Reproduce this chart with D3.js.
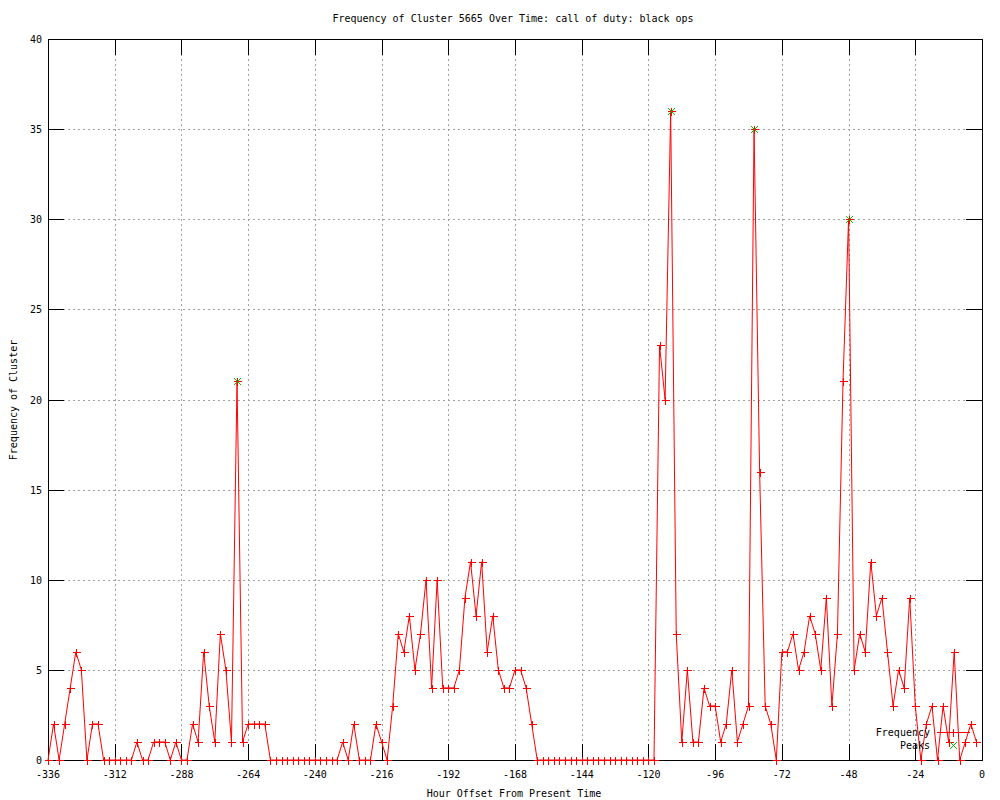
<!DOCTYPE html>
<html>
<head>
<meta charset="utf-8">
<script src="https://cdn.jsdelivr.net/npm/d3@7"></script>
<style>
  body { margin: 0; background: #fff; }
  text { font-family: "DejaVu Sans Mono", monospace; font-size: 10px; fill: #000; }
</style>
</head>
<body>
<div id="chart"></div>
<script>
// hour offsets (x) and cluster frequency (y)
var hours = [
  -336,-334,-332,-330,-328,-326,-324,-322,-320,-318,-316,-314,
  -312,-310,-308,-306,-304,-302,-300,-298,-296,-294,-292,-290,
  -288,-286,-284,-282,-280,-278,-276,-274,-272,-270,-268,-266,
  -264,-262,-260,-258,-256,-254,-252,-250,-248,-246,-244,-242,
  -240,-238,-236,-234,-232,-230,-228,-226,-224,-222,-220,-218,
  -216,-214,-212,-210,-208,-206,-204,-202,-200,-198,-196,-194,
  -192,-190,-188,-186,-184,-182,-180,-178,-176,-174,-172,-170,
  -168,-166,-164,-162,-160,-158,-156,-154,-152,-150,-148,-146,
  -144,-142,-140,-138,-136,-134,-132,-130,-128,-126,-124,-122,
  -120,-118,-116,-114,-112,-110,-108,-106,-104,-102,-100,-98,
  -96,-94,-92,-90,-88,-86,-84,-82,-80,-78,-76,-74,
  -72,-70,-68,-66,-64,-62,-60,-58,-56,-54,-52,-50,
  -48,-46,-44,-42,-40,-38,-36,-34,-32,-30,-28,-26,
  -24,-22,-20,-18,-16,-14,-12,-10,-8,-6,-4,-2
];

var frequency = [
  0,2,0,2,4,6,5,0,2,2,0,0,
  0,0,0,0,1,0,0,1,1,1,0,1,
  0,0,2,1,6,3,1,7,5,1,21,1,
  2,2,2,2,0,0,0,0,0,0,0,0,
  0,0,0,0,0,1,0,2,0,0,0,2,
  1,0,3,7,6,8,5,7,10,4,10,4,
  4,4,5,9,11,8,11,6,8,5,4,4,
  5,5,4,2,0,0,0,0,0,0,0,0,
  0,0,0,0,0,0,0,0,0,0,0,0,
  0,0,23,20,36,7,1,5,1,1,4,3,
  3,1,2,5,1,2,3,35,16,3,2,0,
  6,6,7,5,6,8,7,5,9,3,7,21,
  30,5,7,6,11,8,9,6,3,5,4,9,
  3,0,2,3,0,3,1,6,0,1,2,1
];

var peakHours = [-268, -112, -82, -48];
var peakValues = [21, 36, 35, 30];

var xTicks = [-336,-312,-288,-264,-240,-216,-192,-168,-144,-120,-96,-72,-48,-24,0];
var yTicks = [0,5,10,15,20,25,30,35,40];

var title = "Frequency of Cluster 5665 Over Time: call of duty: black ops";

(function() {
  var width = 1000,
    height = 800;

  var left = 48, right = 982, top = 39, bottom = 760,
    ticLen = 16;

  var svg = d3.select("#chart")
    .append("svg")
    .attr("width", width)
    .attr("height", height);

  var x = d3.scaleLinear().domain([-336, 0]).range([left, right]);
  var y = d3.scaleLinear().domain([0, 40]).range([bottom, top]);

  var data = hours.map(function(h, i) { return { h: h, v: frequency[i] }; });
  var peaks = peakHours.map(function(h, i) { return { h: h, v: peakValues[i] }; });

  var red = "#ff0000", green = "#00c000";

  // grid
  var grid = svg.append("g")
    .attr("stroke", "#a0a0a0")
    .attr("stroke-dasharray", "2,3")
    .attr("shape-rendering", "crispEdges");

  grid.selectAll(".gx")
    .data(xTicks.slice(1, -1))
    .enter().append("line")
    .attr("x1", function(d) { return Math.round(x(d)) + 0.5; })
    .attr("x2", function(d) { return Math.round(x(d)) + 0.5; })
    .attr("y1", top)
    .attr("y2", bottom);

  grid.selectAll(".gy")
    .data(yTicks.slice(1, -1))
    .enter().append("line")
    .attr("y1", function(d) { return Math.round(y(d)) + 0.5; })
    .attr("y2", function(d) { return Math.round(y(d)) + 0.5; })
    .attr("x1", left)
    .attr("x2", right);

  // ticks on all four sides
  var tics = svg.append("g")
    .attr("stroke", "#000")
    .attr("shape-rendering", "crispEdges");

  xTicks.forEach(function(t) {
    var px = Math.round(x(t)) + 0.5;
    tics.append("line").attr("x1", px).attr("x2", px).attr("y1", bottom).attr("y2", bottom - ticLen);
    tics.append("line").attr("x1", px).attr("x2", px).attr("y1", top).attr("y2", top + ticLen);
  });

  yTicks.forEach(function(t) {
    var py = Math.round(y(t)) + 0.5;
    tics.append("line").attr("y1", py).attr("y2", py).attr("x1", left).attr("x2", left + ticLen);
    tics.append("line").attr("y1", py).attr("y2", py).attr("x1", right).attr("x2", right - ticLen);
  });

  svg.append("rect")
    .attr("x", left + 0.5)
    .attr("y", top + 0.5)
    .attr("width", right - left)
    .attr("height", bottom - top)
    .attr("fill", "none")
    .attr("stroke", "#000")
    .attr("shape-rendering", "crispEdges");

  // tick labels
  svg.selectAll(".xlab")
    .data(xTicks)
    .enter().append("text")
    .attr("x", function(d) { return x(d); })
    .attr("y", 778)
    .attr("text-anchor", "middle")
    .text(function(d) { return d; });

  svg.selectAll(".ylab")
    .data(yTicks)
    .enter().append("text")
    .attr("x", 42)
    .attr("y", function(d) { return y(d) + 4; })
    .attr("text-anchor", "end")
    .text(function(d) { return d; });

  svg.append("text")
    .attr("x", 513)
    .attr("y", 22)
    .attr("text-anchor", "middle")
    .text(title);

  svg.append("text")
    .attr("x", 514)
    .attr("y", 797)
    .attr("text-anchor", "middle")
    .text("Hour Offset From Present Time");

  svg.append("text")
    .attr("transform", "translate(17,400) rotate(-90)")
    .attr("text-anchor", "middle")
    .text("Frequency of Cluster");

  // frequency line + markers
  var line = d3.line()
    .x(function(d) { return x(d.h); })
    .y(function(d) { return y(d.v); });

  svg.append("path")
    .datum(data)
    .attr("d", line)
    .attr("fill", "none")
    .attr("stroke", red)
    .attr("stroke-width", 1);

  function plus(sel, s) {
    sel.attr("d", "M" + (-s) + ",0H" + s + "M0," + (-s) + "V" + s);
  }
  function cross(sel, s) {
    sel.attr("d", "M" + (-s) + "," + (-s) + "L" + s + "," + s + "M" + (-s) + "," + s + "L" + s + "," + (-s));
  }

  svg.selectAll(".pt")
    .data(data)
    .enter().append("path")
    .attr("class", "pt")
    .attr("transform", function(d) { return "translate(" + (Math.round(x(d.h)) + 0.5) + "," + (Math.round(y(d.v)) + 0.5) + ")"; })
    .attr("stroke", red)
    .attr("shape-rendering", "crispEdges")
    .call(plus, 4);

  svg.selectAll(".peak")
    .data(peaks)
    .enter().append("path")
    .attr("class", "peak")
    .attr("transform", function(d) { return "translate(" + (Math.round(x(d.h)) + 0.5) + "," + (Math.round(y(d.v)) + 0.5) + ")"; })
    .attr("stroke", green)
    .attr("shape-rendering", "crispEdges")
    .call(cross, 3.5);

  // legend
  var legend = svg.append("g");
  legend.append("text").attr("x", 930).attr("y", 736).attr("text-anchor", "end").text("Frequency");
  legend.append("line").attr("x1", 937).attr("x2", 970).attr("y1", 732.5).attr("y2", 732.5)
    .attr("stroke", red).attr("shape-rendering", "crispEdges");
  legend.append("path").attr("transform", "translate(953.5,732.5)").attr("stroke", red)
    .attr("shape-rendering", "crispEdges").call(plus, 4);
  legend.append("text").attr("x", 930).attr("y", 749).attr("text-anchor", "end").text("Peaks");
  legend.append("path").attr("transform", "translate(953.5,745.5)").attr("stroke", green)
    .attr("shape-rendering", "crispEdges").call(cross, 3.5);
})();
</script>
</body>
</html>
